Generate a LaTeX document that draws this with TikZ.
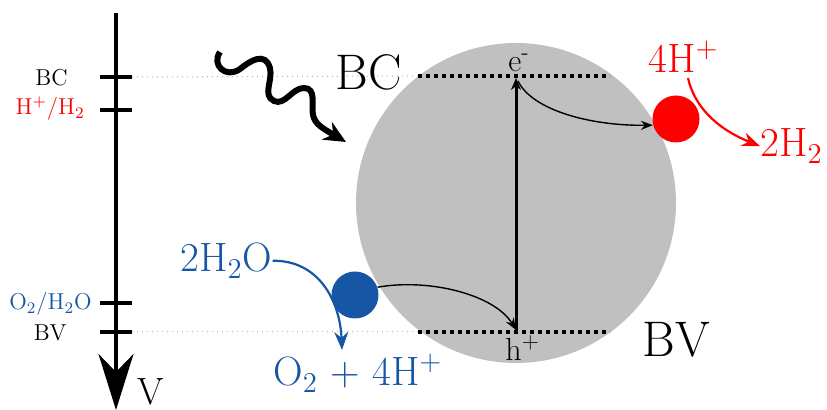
\documentclass[tikz,border=0pt]{standalone}
\usetikzlibrary{arrows.meta}
\definecolor{myblue}{RGB}{22,86,164}
\definecolor{myred}{RGB}{255,0,0}
\definecolor{particle}{RGB}{192,192,192}
\begin{document}
\begin{tikzpicture}[x=0.5pt,y=-0.5pt,
  lbl/.style={inner sep=0pt, font=\fontsize{11.5}{13}\selectfont},
  big/.style={inner sep=0pt, font=\fontsize{25}{30}\selectfont},
  chem/.style={inner sep=0pt, font=\fontsize{20.5}{24}\selectfont},
  carrier/.style={inner sep=0pt, font=\fontsize{16}{19}\selectfont},
  axtick/.style={line width=2pt},
  guide/.style={gray!60, line width=0.5pt, dotted},
  band/.style={line width=1.6pt, dash pattern=on 2pt off 2pt},
  thinarrow/.style={line width=0.7pt, -{Stealth[length=6pt,width=4.5pt]}},
  chemarrow/.style={line width=1.1pt, -{Stealth[length=9pt,width=7pt]}},
  dot/.style={circle, inner sep=0pt, minimum size=23.5pt}
]
\useasboundingbox (0,0) rectangle (827,410);

% particle
\fill[particle] (516,203) circle[radius=160];

% axis
\coordinate (axtop) at (116,13);
\coordinate (axbot) at (116,410);
\draw[line width=2pt, -{Stealth[length=28pt,width=17.5pt,inset=9pt]}] (axtop) -- (axbot);

% ticks
\coordinate (tBCl) at (100,77);  \coordinate (tBCr) at (132,77);
\coordinate (tHl) at (100,110);  \coordinate (tHr) at (132,110);
\coordinate (tOl) at (100,303);  \coordinate (tOr) at (132,303);
\coordinate (tBVl) at (100,332); \coordinate (tBVr) at (132,332);
\draw[axtick] (tBCl) -- (tBCr);
\draw[axtick] (tHl) -- (tHr);
\draw[axtick] (tOl) -- (tOr);
\draw[axtick] (tBVl) -- (tBVr);

% axis labels
\node[lbl, anchor=base east] (lBC) at (68,86) {BC};
\node[lbl, anchor=base east, text=myred] (lH) at (85,115) {H\textsuperscript{+}/H\textsubscript{2}};
\node[lbl, anchor=base east, text=myblue] (lO) at (92,310) {O\textsubscript{2}/H\textsubscript{2}O};
\node[lbl, anchor=base east] (lBV) at (67,341) {BV};
\node[inner sep=0pt, font=\fontsize{19}{22}\selectfont, anchor=base west] (lV) at (137,405) {V};

% band edges
\coordinate (bcs) at (418,76);  \coordinate (bce) at (610,76);
\coordinate (bvs) at (418,332); \coordinate (bve) at (610,332);
\draw[guide] (tBCr) -- (bcs);
\draw[guide] (tBVr) -- (bvs);
\draw[band] (bcs) -- (bce);
\draw[band] (bvs) -- (bve);

\node[big, anchor=base west] (BC) at (335,90) {BC};
\node[big, anchor=base west] (BV) at (642,357) {BV};

% carriers
\node[carrier, anchor=base west] (e) at (508,72) {e\textsuperscript{-}};
\node[carrier, anchor=base west] (h) at (505,361) {h\textsuperscript{+}};
\coordinate (eend) at (516,78);
\coordinate (hend) at (516,332);
\draw[line width=1.5pt, -{Stealth[length=6pt,width=5pt]}] (hend) -- (eend);

% cocatalysts
\node[dot, fill=myred] (red) at (676,119) {};
\node[dot, fill=myblue] (blue) at (355,295) {};

\draw[thinarrow] (518,81) .. controls (532,110) and (590,126) .. (red.195);
\draw[thinarrow] (blue.19) .. controls (430,278) and (495,295) .. (516,330);

% chemistry
\node[chem, anchor=base west, text=myred] (fourH) at (648,73) {4H\textsuperscript{+}};
\node[chem, anchor=base west, text=myred] (twoH2) at (760,157) {2H\textsubscript{2}};
\node[chem, anchor=base west, text=myblue] (water) at (180,272) {2H\textsubscript{2}O};
\node[chem, anchor=base west, text=myblue] (oxy) at (273,386) {O\textsubscript{2} + 4H\textsuperscript{+}};

\draw[chemarrow, myred] (688,78) .. controls (694,105) and (715,128) .. (twoH2.west);
\draw[chemarrow, myblue] (water.east) .. controls (318,260) and (340,300) .. (342,350);

% photon
\coordinate (ph0) at (220,52);
\coordinate (ph1) at (346,142);
\draw[line width=3pt, -{Stealth[length=11pt,width=10pt]}] (ph0)
  .. controls (211,65) and (226,79) .. (240,69)
  .. controls (250,61) and (265,51) .. (270,68)
  .. controls (273,81) and (262,95) .. (274,101)
  .. controls (285,106) and (292,88) .. (304,88)
  .. controls (317,88) and (311,106) .. (313,115)
  .. controls (315,124) and (322,128) .. (ph1);
\end{tikzpicture}
\end{document}
